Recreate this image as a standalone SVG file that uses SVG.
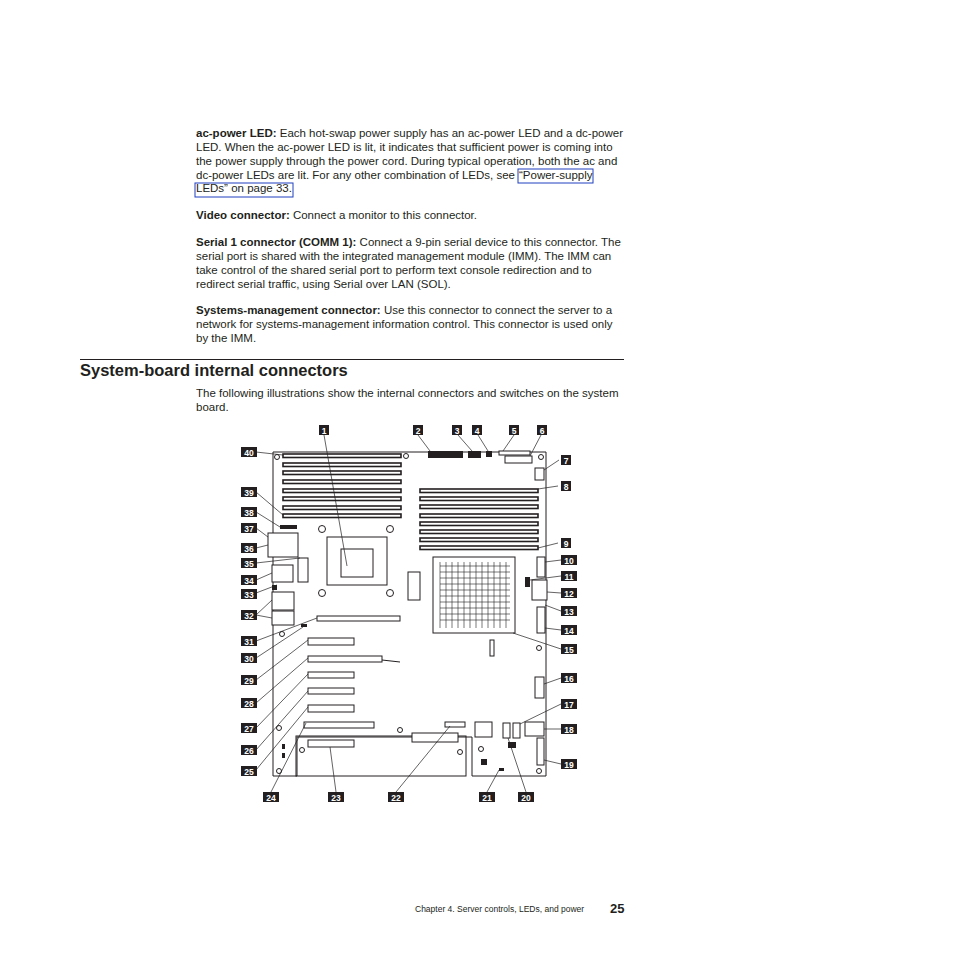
<svg xmlns="http://www.w3.org/2000/svg" width="954" height="954" viewBox="0 0 954 954">
<style>
.t{font-family:"Liberation Sans",Arial,sans-serif;font-size:11.5px;fill:#231f20}
.b{font-weight:bold}
.lb rect{fill:#231f20}
.lb text{font-family:"Liberation Sans",Arial,sans-serif;font-size:8.5px;font-weight:bold;fill:#fff;text-anchor:middle}
.s{fill:none;stroke:#231f20;stroke-width:1}
.k{fill:#231f20}
.w{fill:#fff;stroke:#231f20;stroke-width:1}
.d rect{fill:#fff;stroke:#231f20;stroke-width:1.6}
.ld{fill:none;stroke:#231f20;stroke-width:0.7}
</style>
<rect width="954" height="954" fill="#fff"/>
<g id="text">
<text class="t" x="196" y="137"><tspan class="b">ac-power LED:</tspan> Each hot-swap power supply has an ac-power LED and a dc-power</text>
<text class="t" x="196" y="151">LED. When the ac-power LED is lit, it indicates that sufficient power is coming into</text>
<text class="t" x="196" y="165">the power supply through the power cord. During typical operation, both the ac and</text>
<text class="t" x="196" y="179">dc-power LEDs are lit. For any other combination of LEDs, see</text>
<text class="t" x="519" y="179">“Power-supply</text>
<text class="t" x="196" y="192">LEDs” on page 33.</text>
<rect x="518" y="169" width="75" height="14" fill="none" stroke="#1f3fbf" stroke-width="1"/>
<rect x="195" y="183" width="98" height="14" fill="none" stroke="#1f3fbf" stroke-width="1"/>
<text class="t" x="196" y="219"><tspan class="b">Video connector:</tspan> Connect a monitor to this connector.</text>
<text class="t" x="196" y="246"><tspan class="b">Serial 1 connector (COMM 1):</tspan> Connect a 9-pin serial device to this connector. The</text>
<text class="t" x="196" y="260">serial port is shared with the integrated management module (IMM). The IMM can</text>
<text class="t" x="196" y="274">take control of the shared serial port to perform text console redirection and to</text>
<text class="t" x="196" y="288">redirect serial traffic, using Serial over LAN (SOL).</text>
<text class="t" x="196" y="314"><tspan class="b">Systems-management connector:</tspan> Use this connector to connect the server to a</text>
<text class="t" x="196" y="328">network for systems-management information control. This connector is used only</text>
<text class="t" x="196" y="342">by the IMM.</text>
<line x1="80" y1="359.5" x2="624" y2="359.5" stroke="#231f20" stroke-width="1"/>
<text class="t b" x="80" y="376" style="font-size:16.5px">System-board internal connectors</text>
<text class="t" x="196" y="397">The following illustrations show the internal connectors and switches on the system</text>
<text class="t" x="196" y="411">board.</text>
<text class="t" x="415" y="912" style="font-size:8.5px">Chapter 4. Server controls, LEDs, and power</text>
<text class="t b" x="610" y="913" style="font-size:13px">25</text>
</g>
<g id="board">
<polygon class="s" points="273,452 546,452 546,776 472,776 472,737 297,737 297,776 273,776"/>
<rect class="s" x="296" y="736" width="170" height="40"/>
<g id="dimms-left" class="d">
<rect x="283" y="454" width="118" height="3.5"/><rect x="283" y="463" width="118" height="3.5"/>
<rect x="283" y="471" width="118" height="3.5"/><rect x="283" y="480" width="118" height="3.5"/>
<rect x="283" y="489" width="118" height="3.5"/><rect x="283" y="497" width="118" height="3.5"/>
<rect x="283" y="506" width="118" height="3.5"/><rect x="283" y="514" width="118" height="3.5"/>
</g>
<g id="dimms-right" class="d">
<rect x="420" y="489" width="118" height="3.5"/><rect x="420" y="497" width="118" height="3.5"/>
<rect x="420" y="505" width="118" height="3.5"/><rect x="420" y="514" width="118" height="3.5"/>
<rect x="420" y="522" width="118" height="3.5"/><rect x="420" y="530" width="118" height="3.5"/>
<rect x="420" y="538" width="118" height="3.5"/><rect x="420" y="546" width="118" height="3.5"/>
</g>
<g id="cpu1">
<rect class="s" x="327" y="537" width="60" height="48" stroke-width="2"/>
<rect class="s" x="341" y="549" width="32" height="28" stroke-width="1.5"/>
<circle class="s" cx="322" cy="529" r="3.5"/><circle class="s" cx="390" cy="529" r="3.5"/>
<circle class="s" cx="322" cy="593" r="3.5"/><circle class="s" cx="390" cy="593" r="3.5"/>
</g>
<g id="cpu2">
<rect class="s" x="433" y="557" width="82" height="76" stroke-width="1.5"/>
<path d="M440 562V628M446 562V628M452 562V628M458 562V628M464 562V628M470 562V628M476 562V628M482 562V628M488 562V628M494 562V628M500 562V628M506 562V628M440 566H510M440 572H510M440 578H510M440 584H510M440 590H510M440 596H510M440 602H510M440 608H510M440 614H510M440 620H510" stroke="#231f20" stroke-width="0.6"/>
</g>
<g id="slots">
<rect class="w" x="317" y="616" width="83" height="5" stroke-width="1.5"/>
<rect class="w" x="308" y="638" width="46" height="7" stroke-width="1.5"/>
<rect class="w" x="308" y="656" width="74" height="6" stroke-width="1.5"/><line class="s" x1="382" y1="660" x2="400" y2="662"/>
<rect class="w" x="308" y="672" width="46" height="6" stroke-width="1.5"/>
<rect class="w" x="308" y="688" width="46" height="6" stroke-width="1.5"/>
<rect class="w" x="308" y="705" width="46" height="7" stroke-width="1.5"/>
<rect class="w" x="304" y="722" width="70" height="6" stroke-width="1.5"/>
<rect class="w" x="308" y="740" width="46" height="7" stroke-width="1.5"/>
</g>
<g id="parts">
<rect class="k" x="428" y="451" width="35" height="7"/>
<rect class="k" x="468" y="451" width="13" height="7"/>
<rect class="k" x="486" y="451" width="6" height="6"/>
<rect class="w" x="499" y="451" width="31" height="4"/>
<rect class="w" x="505" y="456" width="27" height="7"/>
<rect class="w" x="535" y="468" width="9" height="12"/>
<rect class="w" x="268" y="533" width="30" height="24"/>
<rect class="w" x="272" y="565" width="21" height="17"/>
<rect class="w" x="298" y="558" width="10" height="24"/>
<rect class="w" x="272" y="592" width="22" height="18"/>
<rect class="w" x="272" y="611" width="22" height="14"/>
<rect class="k" x="280" y="525" width="17" height="4"/>
<rect class="w" x="537" y="557" width="8" height="20"/>
<rect class="w" x="532" y="580" width="15" height="20"/>
<rect class="w" x="537" y="607" width="8" height="26"/>
<rect class="k" x="525" y="577" width="5" height="10"/>
<rect class="w" x="408" y="572" width="12" height="28"/>
<rect class="w" x="490" y="640" width="4" height="16"/>
<rect class="w" x="535" y="677" width="9" height="21"/>
<rect class="w" x="537" y="738" width="7" height="27"/>
<rect class="w" x="525" y="722" width="19" height="14"/>
<rect class="w" x="513" y="723" width="7" height="15"/>
<rect class="w" x="503" y="723" width="7" height="15"/>
<rect class="k" x="508" y="742" width="8" height="6"/>
<rect class="w" x="412" y="733" width="46" height="9"/>
<rect class="w" x="445" y="722" width="20" height="5"/>
<rect class="w" x="475" y="722" width="17" height="15"/>
<rect class="k" x="481" y="759" width="6" height="6"/>
<rect class="k" x="499" y="768" width="5" height="3"/>
<rect class="k" x="301" y="624" width="6" height="3"/>
<rect class="k" x="282" y="744" width="3" height="5"/>
<rect class="k" x="282" y="753" width="3" height="5"/>
<rect class="k" x="272" y="585" width="5" height="5"/>
<circle class="s" cx="277" cy="457" r="2.5"/><circle class="s" cx="406" cy="456" r="2.5"/>
<circle class="s" cx="541" cy="457" r="2.5"/><circle class="s" cx="282" cy="634" r="2.5"/>
<circle class="s" cx="279" cy="728" r="2.5"/><circle class="s" cx="279" cy="771" r="2.5"/>
<circle class="s" cx="400" cy="730" r="2.5"/><circle class="s" cx="460" cy="752" r="2.5"/>
<circle class="s" cx="481" cy="749" r="2.5"/><circle class="s" cx="539" cy="771" r="2.5"/>
<circle class="s" cx="539" cy="648" r="2.5"/><circle class="s" cx="302" cy="750" r="2.5"/>
</g>
</g>
<g id="connectors">
<path class="ld" d="M324 435L347 566M418 435L430 451M458 435L472 451M478 435L488 451M514 435L503 451M541 435L530 456M559 460L544 470M558 486L538 489M558 543L538 548M561 560L545 562M561 576L530 580M561 593L547 592M561 611L545 605M561 630L545 628M561 649L513 633M561 678L544 684M561 704L520 724M561 729L544 729M561 764L544 760M526 792L508 738M487 792L499 770M396 792L450 726M336 792L330 747M271 792L306 723M256 770L308 707M256 750L308 691M256 728L308 674M256 703L308 658M256 680L308 640M256 658L303 627M256 641L317 618M256 615L272 600M256 615L272 618M256 593L277 585M256 580L272 573M256 563L300 558M256 548L268 545M256 528L268 537M256 512L280 527M256 492L283 515M256 452L283 455"/>
</g>
<g id="labels" class="lb">
<g><rect x="319" y="425" width="10" height="10"/><text x="324" y="433.5">1</text></g>
<g><rect x="413" y="425" width="10" height="10"/><text x="418" y="433.5">2</text></g>
<g><rect x="452" y="425" width="10" height="10"/><text x="457" y="433.5">3</text></g>
<g><rect x="472" y="425" width="10" height="10"/><text x="477" y="433.5">4</text></g>
<g><rect x="509" y="425" width="10" height="10"/><text x="514" y="433.5">5</text></g>
<g><rect x="537" y="425" width="10" height="10"/><text x="542" y="433.5">6</text></g>
<g><rect x="561" y="455" width="10" height="10"/><text x="566" y="463.5">7</text></g>
<g><rect x="561" y="481" width="10" height="10"/><text x="566" y="489.5">8</text></g>
<g><rect x="561" y="538" width="10" height="10"/><text x="566" y="546.5">9</text></g>
<g><rect x="561" y="555" width="16" height="10"/><text x="569" y="563.5">10</text></g>
<g><rect x="561" y="571" width="16" height="10"/><text x="569" y="579.5">11</text></g>
<g><rect x="561" y="588" width="16" height="10"/><text x="569" y="596.5">12</text></g>
<g><rect x="561" y="606" width="16" height="10"/><text x="569" y="614.5">13</text></g>
<g><rect x="561" y="625" width="16" height="10"/><text x="569" y="633.5">14</text></g>
<g><rect x="561" y="644" width="16" height="10"/><text x="569" y="652.5">15</text></g>
<g><rect x="561" y="673" width="16" height="10"/><text x="569" y="681.5">16</text></g>
<g><rect x="561" y="699" width="16" height="10"/><text x="569" y="707.5">17</text></g>
<g><rect x="561" y="724" width="16" height="10"/><text x="569" y="732.5">18</text></g>
<g><rect x="561" y="759" width="16" height="10"/><text x="569" y="767.5">19</text></g>
<g><rect x="518" y="792" width="16" height="10"/><text x="526" y="800.5">20</text></g>
<g><rect x="479" y="792" width="16" height="10"/><text x="487" y="800.5">21</text></g>
<g><rect x="388" y="792" width="16" height="10"/><text x="396" y="800.5">22</text></g>
<g><rect x="328" y="792" width="16" height="10"/><text x="336" y="800.5">23</text></g>
<g><rect x="263" y="792" width="16" height="10"/><text x="271" y="800.5">24</text></g>
<g><rect x="241" y="766" width="16" height="10"/><text x="249" y="774.5">25</text></g>
<g><rect x="241" y="745" width="16" height="10"/><text x="249" y="753.5">26</text></g>
<g><rect x="241" y="723" width="16" height="10"/><text x="249" y="731.5">27</text></g>
<g><rect x="241" y="698" width="16" height="10"/><text x="249" y="706.5">28</text></g>
<g><rect x="241" y="675" width="16" height="10"/><text x="249" y="683.5">29</text></g>
<g><rect x="241" y="653" width="16" height="10"/><text x="249" y="661.5">30</text></g>
<g><rect x="241" y="636" width="16" height="10"/><text x="249" y="644.5">31</text></g>
<g><rect x="241" y="610" width="16" height="10"/><text x="249" y="618.5">32</text></g>
<g><rect x="241" y="589" width="16" height="10"/><text x="249" y="597.5">33</text></g>
<g><rect x="241" y="575" width="16" height="10"/><text x="249" y="583.5">34</text></g>
<g><rect x="241" y="558" width="16" height="10"/><text x="249" y="566.5">35</text></g>
<g><rect x="241" y="543" width="16" height="10"/><text x="249" y="551.5">36</text></g>
<g><rect x="241" y="523" width="16" height="10"/><text x="249" y="531.5">37</text></g>
<g><rect x="241" y="507" width="16" height="10"/><text x="249" y="515.5">38</text></g>
<g><rect x="241" y="487" width="16" height="10"/><text x="249" y="495.5">39</text></g>
<g><rect x="241" y="447" width="16" height="10"/><text x="249" y="455.5">40</text></g>
</g>
</svg>
